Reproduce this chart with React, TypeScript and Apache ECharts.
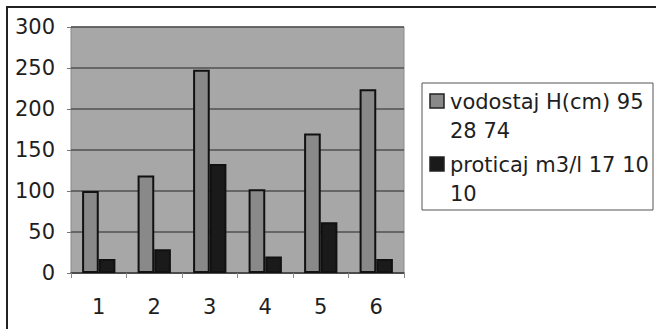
import React, { useEffect, useRef } from "react";
import * as echarts from "echarts";

const categories = ["1", "2", "3", "4", "5", "6"];
const seriesNames = ["vodostaj H(cm) 95 28 74", "proticaj m3/l 17 10 10"];
const legendLines = [["vodostaj H(cm) 95", "28 74"], ["proticaj m3/l 17 10", "10"]];
const vodostaj = [100, 119, 248, 102, 170, 224];
const proticaj = [17, 29, 133, 20, 62, 17];
const yTicks = [0, 50, 100, 150, 200, 250, 300];

const FONT = "DejaVu Sans";
const barColors = ["#898989", "#1a1a1a"];

export default function App() {
  const ref = useRef<HTMLDivElement>(null);
  useEffect(() => {
    if (!ref.current) return;
    const chart = echarts.init(ref.current, undefined, { renderer: "svg" });
    const legendGraphics: any[] = [
      {
        type: "rect",
        shape: { x: 422, y: 83, width: 231, height: 127 },
        style: { fill: "#fff", stroke: "#555", lineWidth: 1 },
      },
    ];
    legendLines.forEach((lines, i) => {
      const top = 94 + i * 63;
      legendGraphics.push({
        type: "rect",
        shape: { x: 430, y: top, width: 14, height: 14 },
        style: { fill: barColors[i], stroke: "#222", lineWidth: 1.5 },
      });
      legendGraphics.push({
        type: "text",
        x: 450,
        y: top - 7,
        style: {
          text: lines.join("\n"),
          font: `21px '${FONT}'`,
          fill: "#1e1e1e",
          lineHeight: 29,
          textVerticalAlign: "top",
        },
      });
    });
    chart.setOption({
      animation: false,
      backgroundColor: "#fff",
      grid: {
        left: 71,
        top: 27,
        width: 333,
        height: 246,
        show: true,
        backgroundColor: "#a7a7a7",
        borderColor: "#8a8a8a",
        borderWidth: 1,
      },
      xAxis: {
        type: "category",
        data: categories,
        axisLine: { show: true, lineStyle: { color: "#444", width: 1.5 } },
        axisTick: { show: true, length: 5, lineStyle: { color: "#888" } },
        axisLabel: { margin: 23, fontFamily: FONT, fontSize: 21, color: "#1e1e1e" },
      },
      yAxis: {
        type: "value",
        min: 0,
        max: 300,
        interval: 50,
        axisLine: { show: false },
        axisTick: { show: true, length: 4, lineStyle: { color: "#777" } },
        axisLabel: {
          margin: 16,
          fontFamily: FONT,
          fontSize: 21,
          color: "#1e1e1e",
          formatter: (v: number) => (yTicks.includes(v) ? String(v) : ""),
        },
        splitLine: { show: true, lineStyle: { color: "#505050", width: 1.5 } },
      },
      series: [
        {
          name: seriesNames[0],
          type: "bar",
          data: vodostaj,
          barGap: "0%",
          barCategoryGap: "40%",
          itemStyle: { color: barColors[0], borderColor: "#111", borderWidth: 2 },
        },
        {
          name: seriesNames[1],
          type: "bar",
          data: proticaj,
          barGap: "0%",
          barCategoryGap: "40%",
          itemStyle: { color: barColors[1], borderColor: "#111", borderWidth: 2 },
        },
      ],
      graphic: [
        {
          type: "line",
          shape: { x1: 6, y1: 7, x2: 656, y2: 7 },
          style: { stroke: "#222", lineWidth: 2 },
        },
        {
          type: "line",
          shape: { x1: 7, y1: 6, x2: 7, y2: 329 },
          style: { stroke: "#222", lineWidth: 2 },
        },
        ...legendGraphics,
      ],
    });
    return () => chart.dispose();
  }, []);
  return (
    <div
      ref={ref}
      style={{ position: "absolute", left: 0, top: 0, width: 656, height: 329 }}
    />
  );
}
